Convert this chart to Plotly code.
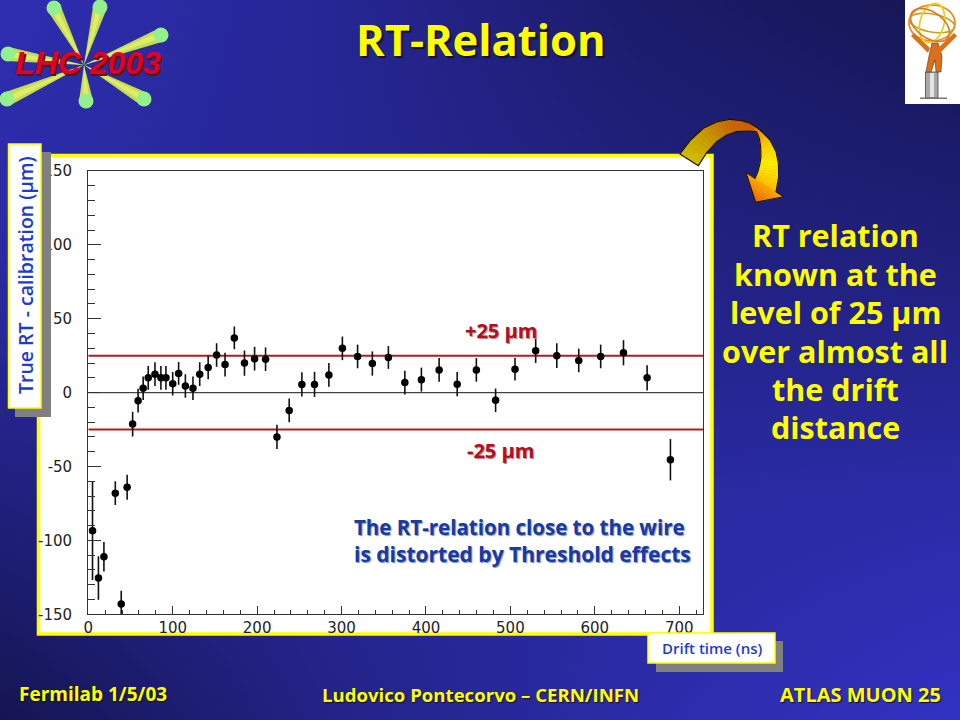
import base64, struct, zlib
import numpy as np
import plotly.graph_objects as go

# ---- chart data ----
drift_time = [5, 12, 18.5, 32, 39, 46, 52.5, 59, 65, 71, 79, 86, 92, 100, 107, 115, 124, 132, 142, 152, 162, 173,
              185, 197, 210, 223.5, 238, 253, 268, 285, 301, 319, 336.5, 355.5, 375, 394.6, 415.6, 437, 459.7,
              482.5, 505.5, 530, 555, 581, 607, 634, 662, 689.6]
residual = [-93.4, -125.4, -111, -68, -143, -64, -21.3, -5.4, 3, 10, 12.5, 10, 10, 6, 13, 4.5, 3, 12.5, 17, 25.5, 19, 37,
            20, 23, 22.6, -30, -12, 5.6, 5.6, 12, 30, 24.5, 19.7, 23.8, 6.8, 8.8, 15.4, 5.7, 15.4,
            -5.2, 15.9, 28.3, 25, 21.8, 24.5, 27, 10, -45.4]
residual_err = [33.4, 14.7, 10, 8, 9, 8.4, 8.3, 8, 8, 8, 8, 8, 8, 8, 7.7, 8, 8, 8, 8, 8, 8, 7.7,
                8.5, 8, 8, 8.2, 8, 8.2, 8.5, 8, 8, 8, 8.2, 7.7, 8, 8.1, 8, 8.2, 8,
                8, 7.7, 8.2, 8.4, 8, 8, 8.5, 8.5, 14]
band_levels = [25, -25]
zero_level = [0]
x_limits = [0, 728.2]
y_limits = [-150, 150]
y_ticks = [150, 100, 50, 0, -50, -100, -150]
y_labels = ["150", "100", "50", "0", "-50", "-100", "-150"]
x_ticks = [0, 100, 200, 300, 400, 500, 600, 700]

right_lines = ["RT relation", "known at the", "level of 25 μm", "over almost all", "the drift", "distance"]
right_y = [235, 274, 312, 351, 389, 427]

W, H = 960, 720
COMIC = "Open Sans"
YEL = "#ffff00"

def fx(x): return x / W
def fy(y): return 1 - y / H

def poly(points, fill, line=None, lw=0.0, layer="above"):
    d = "M" + " L".join(f"{fx(x):.5f},{fy(y):.5f}" for x, y in points) + " Z"
    return dict(type="path", path=d, xref="paper", yref="paper", fillcolor=fill, layer=layer,
                line=dict(color=line or fill, width=lw))

def rect(x0, y0, x1, y1, fill, line=None, lw=0, layer="above"):
    return dict(type="rect", xref="paper", yref="paper", x0=fx(x0), x1=fx(x1), y0=fy(y1), y1=fy(y0),
                fillcolor=fill, layer=layer, line=dict(color=line or fill, width=lw))

def disc(cx, cy, r, fill, layer="above"):
    return dict(type="circle", xref="paper", yref="paper", x0=fx(cx - r), x1=fx(cx + r), y0=fy(cy + r), y1=fy(cy - r),
                fillcolor=fill, layer=layer, line=dict(color=fill, width=0))

def ellipse_line(cx, cy, a, b, deg, color, lw):
    t = np.linspace(0, 2 * np.pi, 40)
    c, s = np.cos(np.radians(deg)), np.sin(np.radians(deg))
    xs = cx + a * np.cos(t) * c - b * np.sin(t) * s
    ys = cy + a * np.cos(t) * s + b * np.sin(t) * c
    d = "M" + " L".join(f"{fx(x):.5f},{fy(y):.5f}" for x, y in zip(xs, ys)) + " Z"
    return dict(type="path", path=d, xref="paper", yref="paper", layer="above", line=dict(color=color, width=lw))

def hex2rgb(h):
    return np.array([int(h[i:i + 2], 16) for i in (1, 3, 5)], float)

def band(stations, steps=4):
    """stations: (outer xy, inner xy, colour); painted as thin quads with blended colours"""
    out = []
    for (o0, i0, c0), (o1, i1, c1) in zip(stations[:-1], stations[1:]):
        o0, i0, o1, i1 = map(np.array, (o0, i0, o1, i1))
        a, b = hex2rgb(c0), hex2rgb(c1)
        for k in range(steps):
            t0, t1 = k / steps, (k + 1) / steps
            col = a + (b - a) * (t0 + t1) / 2
            out.append(poly([o0 + (o1 - o0) * t0, o0 + (o1 - o0) * t1, i0 + (i1 - i0) * t1, i0 + (i1 - i0) * t0],
                            "rgb(%d,%d,%d)" % tuple(col), lw=0.6))
    return out

def z5(p):  # coordinates measured on the arrow crop
    return (670 + p[0] / 3, p[1] / 3)

def stations(outer, inner, colors):
    return [(z5(o), z5(i), c) for o, i, c in zip(outer, inner, colors)]

# ---- slide background gradient ----
grid_b = np.array([[178, 150, 108, 84],
                   [165, 150, 130, 122],
                   [130, 150, 160, 165],
                   [84, 135, 170, 195]], float)
ny, nx = 90, 120
u = np.linspace(0, 3, nx)[None, :]
v = np.linspace(0, 3, ny)[:, None]
i0 = np.clip(np.floor(u).astype(int), 0, 2)
j0 = np.clip(np.floor(v).astype(int), 0, 2)
fu, fv = u - i0, v - j0
blue = (grid_b[j0, i0] * (1 - fu) * (1 - fv) + grid_b[j0, i0 + 1] * fu * (1 - fv)
        + grid_b[j0 + 1, i0] * (1 - fu) * fv + grid_b[j0 + 1, i0 + 1] * fu * fv)
rg = blue * 0.26
rgb = np.stack([rg, rg, blue], axis=-1).astype(np.uint8)
raw = b"".join(b"\x00" + row.tobytes() for row in rgb)
def chunk(t, d):
    return struct.pack(">I", len(d)) + t + d + struct.pack(">I", zlib.crc32(t + d) & 0xffffffff)
png = (b"\x89PNG\r\n\x1a\n" + chunk(b"IHDR", struct.pack(">IIBBBBB", nx, ny, 8, 2, 0, 0, 0))
       + chunk(b"IDAT", zlib.compress(raw)) + chunk(b"IEND", b""))
bg_uri = "data:image/png;base64," + base64.b64encode(png).decode()

# ---- figure ----
fig = go.Figure()
fig.add_trace(go.Scatter(x=x_limits, y=zero_level * 2, mode="lines", line=dict(color="#444444", width=1.2),
                         showlegend=False, hoverinfo="skip"))
for lv in band_levels:
    fig.add_trace(go.Scatter(x=x_limits, y=[lv, lv], mode="lines", line=dict(color="#b01c20", width=2),
                             showlegend=False, hoverinfo="skip"))
fig.add_trace(go.Scatter(x=drift_time, y=residual, mode="markers", showlegend=False,
                         marker=dict(color="#000000", size=7.5, symbol="circle"),
                         error_y=dict(type="data", array=residual_err, visible=True, color="#111111",
                                      thickness=1.6, width=0)))

shapes = []
# results panel
shapes.append(rect(38.5, 155.5, 712, 634, "#ffffff", YEL, 3.5, layer="below"))

# left callout
shapes.append(rect(15, 152, 51, 417, "#808080"))
shapes.append(rect(8.5, 144, 41, 408, "#ffffff", YEL, 1.5))
# drift time callout
shapes.append(rect(656, 641, 783, 672, "#808080"))
shapes.append(rect(648, 633, 775, 663, "#ffffff", YEL, 1.5))

# LHC logo
lc = (84, 65)
ends = [(54, 8), (100, 7), (161, 35), (144, 99), (86, 101), (7, 99), (8, 54)]
for ex, ey in ends:
    dx, dy = ex - lc[0], ey - lc[1]
    n = np.hypot(dx, dy)
    px_, py_ = -dy / n * 7, dx / n * 7
    shapes.append(poly([lc, (ex + px_, ey + py_), (ex - px_, ey - py_)], "#c4dc50"))
    shapes.append(poly([lc, (ex + px_ * .4, ey + py_ * .4), (ex - px_ * .5, ey - py_ * .5)], "#e0ec6c"))
    shapes.append(disc(ex, ey, 7.5, "#94f08c"))

# ATLAS logo
shapes.append(rect(905, 0, 960, 104, "#ffffff"))
shapes.append(rect(925.5, 72, 938, 98, "#a8a8a8", "#444444", 0.8))
shapes.append(rect(930, 73, 934, 97, "#e4e4e4"))
shapes.append(rect(920, 97.5, 947, 99, "#777777"))
shapes.append(ellipse_line(932, 23, 23, 18, 0, "#e8901c", 1.8))
shapes.append(ellipse_line(932, 23, 23, 9, 10, "#c8a020", 1.6))
shapes.append(ellipse_line(932, 23, 12, 20, 15, "#e8d020", 1.8))
shapes.append(ellipse_line(930, 25, 22, 13, 35, "#e07818", 1.6))
shapes.append(poly([(932, 43), (938, 43), (942, 56), (941, 72), (936, 72), (935, 60), (931, 72), (926, 72), (929, 56)],
                   "#d8701c", "#5a3010", 0.6))
shapes.append(poly([(930, 48), (914, 33), (911, 36), (928, 53)], "#d8701c"))
shapes.append(poly([(938, 48), (954, 33), (957, 36), (940, 53)], "#d8701c"))

# curved arrow
outer1 = [(30, 462), (62, 420), (100, 385), (140, 366), (180, 358), (215, 362), (240, 370)]
inner1 = [(85, 497), (110, 458), (140, 425), (170, 405), (200, 395), (235, 393), (260, 395)]
col1 = ["#d0c000", "#ccac00", "#c89400", "#c87c04", "#c86808", "#d06404", "#d86000"]
outer2 = [(240, 370), (270, 390), (300, 420), (318, 455), (325, 490), (326, 530), (318, 575)]
inner2 = [(260, 395), (268, 415), (272, 440), (273, 470), (270, 490), (264, 515), (255, 535)]
col2 = ["#e87800", "#f49800", "#ffc800", "#ffe000", "#fff000", "#ffdc00", "#ffc000"]
head = [(z5((340, 590)), z5((228, 517)), "#ffb000"), (z5((257, 607)), z5((257, 607)), "#f06800")]
shapes += band(stations(outer2, inner2, col2)) + band(head, 8) + band(stations(outer1, inner1, col1))
outline = [z5(p) for p in outer1 + outer2[1:] + [(340, 590), (257, 607), (228, 517)] + inner2[::-1] + inner1[::-1][1:]]
shapes.append(poly(outline, "rgba(0,0,0,0)", "#1a1000", 1.1))

def note(x, y, text, size, color, anchor="center", shadow=None, weight=700, angle=0, family=COMIC):
    return dict(xref="paper", yref="paper", x=fx(x), y=fy(y), text=text, showarrow=False, xanchor=anchor,
                yanchor="middle", textangle=angle,
                font=dict(family=family, size=size, color=color, weight=weight,
                          shadow=shadow or "none"))

ann = [
    note(481, 39, "RT-Relation", 43.5, YEL, shadow="2px 2px 1px #101030"),
    note(25, 275, "True RT - calibration (μm)", 19.5, "#1c3cd0", angle=-90, weight=600),
    note(712, 648, "Drift time (ns)", 15, "#1c3cd0", weight=600),
    note(501, 331, "+25 μm", 20, "#b01020", shadow="1px 1px 0 #d08080"),
    note(500, 450, "-25 μm", 20, "#b01020", shadow="1px 1px 0 #d08080"),
    note(519, 527, "The RT-relation close to the wire", 20.5, "#1a3aa0", shadow="1px 1px 1px #7090d0"),
    note(522, 554, "is distorted by Threshold effects", 21, "#1a3aa0", shadow="1px 1px 1px #7090d0"),
    note(88, 63, "<i>LHC 2003</i>", 32, "#e0002c", shadow="2px 2px 0 #5a1408", family="Liberation Sans"),
    note(93, 694, "Fermilab 1/5/03", 19, YEL, shadow="1px 1px 1px #101030"),
    note(480, 694, "Ludovico Pontecorvo – CERN/INFN", 18.6, YEL, shadow="1px 1px 1px #101030"),
    note(860, 694, "ATLAS MUON 25", 20, YEL, shadow="1px 1px 1px #101030"),
]
for t, y in zip(right_lines, right_y):
    ann.append(note(835, y, t, 30.5, YEL))

frame = "#333333"
fig.update_layout(
    width=W, height=H, margin=dict(l=0, r=0, t=0, b=0, pad=0, autoexpand=False), showlegend=False,
    paper_bgcolor="#20208c", plot_bgcolor="rgba(0,0,0,0)",
    shapes=shapes, annotations=ann,
    images=[dict(source=bg_uri, xref="paper", yref="paper", x=0, y=1, sizex=1, sizey=1,
                 sizing="stretch", layer="below")],
    xaxis=dict(domain=[88.3 / W, 703 / W], range=x_limits, showgrid=False, zeroline=False, automargin=False,
               showline=True, mirror=True, linecolor=frame, linewidth=1.3,
               tickmode="array", tickvals=x_ticks, ticks="inside", ticklen=8, tickcolor=frame, tickwidth=1.2,
               minor=dict(dtick=20, tick0=0, ticks="inside", ticklen=4, tickcolor=frame, tickwidth=1.2, showgrid=False),
               tickfont=dict(family="DejaVu Sans", size=15, color="#222222")),
    yaxis=dict(domain=[1 - 614.3 / H, 1 - 171 / H], range=y_limits, showgrid=False, zeroline=False, automargin=False,
               showline=True, mirror=True, linecolor=frame, linewidth=1.3,
               tickmode="array", tickvals=y_ticks, ticktext=y_labels, ticks="inside", ticklen=13,
               tickcolor=frame, tickwidth=1.2, ticklabelstandoff=12,
               minor=dict(dtick=10, tick0=0, ticks="inside", ticklen=6.5, tickcolor=frame, tickwidth=1.2, showgrid=False),
               tickfont=dict(family="DejaVu Sans", size=15, color="#222222")),
)
fig.write_html("out.html", config={"displayModeBar": False},
               post_script="document.documentElement.style.margin='0';document.body.style.margin='0';document.body.style.overflow='hidden';")
